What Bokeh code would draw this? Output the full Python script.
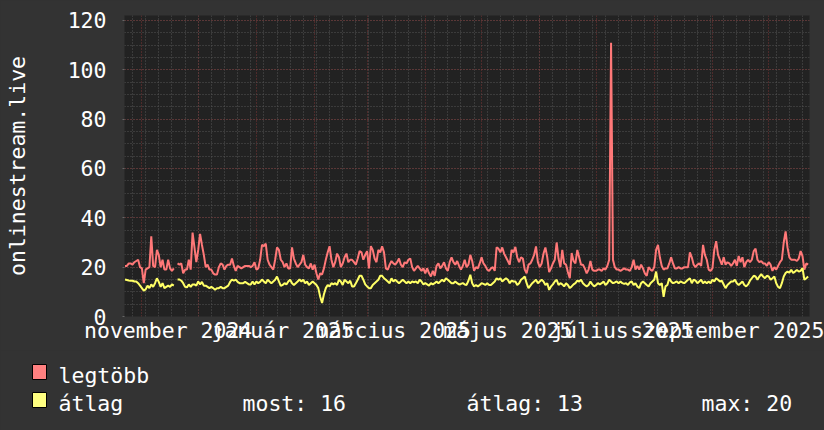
import pandas as pd
from bokeh.plotting import figure
from bokeh.core.properties import value
from bokeh.models import Range1d, FixedTicker, ColumnDataSource, GlobalInlineStyleSheet
from bokeh.embed import file_html
from bokeh.resources import INLINE

nan = float("nan")

# ---- data (daily values) ----
first_day = "2024-10-23"
legtobb = [
    20.5, 20.5, 21.5, 21.5, 21, 22, 22.5, 23, 20, 19.5,
    13.5, 19, 19.5, 20, 32.5, 20.5, 20, 27, 25, 20,
    23, 19, 19, 23, 19.5, 18.5, 19.5, nan, 21.5, 21,
    21.5, 17.5, 19, 19, 23, 19, 34, 28, 22, 27,
    33.5, 29, 25, 20, 21, 19, 19, 17.5, 17, 17,
    20, 21.5, 21, 19, 20.5, 21, 21, 23.5, 20.5, 18.5,
    20.5, 20, 19.5, 20, 20.5, 20.5, 20.5, 20, 20.5, 22,
    19, 19.5, 23, 29, 28.5, 29.5, 23, 21, 20, 19,
    23, 28, 27, 23, 22, 20, 21.5, 19.5, 19.5, 28,
    23.5, 21.5, 20, 21, 22, 25, 21, 20, 19.5, 21.5,
    19, 21, 17.5, 15, 17.5, 17, 19.5, 23, 26, 28.5,
    23, 20, 22, 25.5, 24, 20, 21.5, 24, 25.5, 22,
    23, 23, 22, 21, 23.5, 26.5, 26, 23, 25, 26.5,
    19.5, 28.5, 27, 23.5, 22, 27, 26, 28.5, 26, 19.5,
    19, 21, 22.5, 21.5, 21, 22, 23.5, 21, 20, 22,
    21.5, 23, 23.5, 20, 18.5, 19.5, 20.5, 19.5, 18.5, 19.5,
    17.5, 19.5, 17.5, 16.2, 18.5, 16.5, 20.5, 21.5, 19.5, 20.5,
    22, 19.5, 18.5, 22, 24, 22, 21, 22.5, 20.5, 19,
    20.5, 23, 20, 21, 25, 22.5, 18.5, 20, 19.5, 21.5,
    24, 21.5, 20.5, 19, 18.5, 19.5, 20, 18.5, 28, 27.5,
    26, 28, 25.5, 24, 22.5, 21, 27, 26, 28.2, 24,
    22, 24, 23.5, 19, 17.5, 21, 21.5, 23, 25, 28.4,
    22, 20, 21.5, 25.5, 28, 24, 18, 19.5, 21.5, 23,
    30, 23.5, 20, 27, 21.5, 21, 18, 15.5, 25.7, 22.5,
    21.5, 27, 24, 21, 21, 19.5, 17.5, 19, 22.5, 19,
    18.5, 18.5, 19, 19, 18.5, 19.5, 19, 20.5, 23, 111,
    23, 20, 19, 19, 18.5, 19, 19.5, 19, 19, 18.5,
    20, 23, 19, 20.5, 19, 21, 19.5, 17.5, 16.5, 20,
    19, 18.5, 20, 27, 29, 24, 20.5, 19, 19.5, 19.5,
    21.5, 24, 21.5, 19.5, 19.5, 20, 19.5, 19.5, 20, 20,
    20, 26, 24, 21, 20, 21, 21.5, 20.5, 29, 25,
    23, 19, 18.5, 19.5, 27, 30.5, 25, 23, 21, 24,
    21, 22, 21.5, 20.5, 21.5, 23, 20.5, 24.5, 22, 24,
    20, 22, 23, 22, 23, 26.5, 27.5, 23, 22, 22.5,
    21.5, 21.5, 20.5, 22, 21, 18.5, 20, 19, 20.5, 22,
    23, 30, 34.5, 28, 24, 23, 23, 23, 22.5, 23.5,
    26.5, 24.5, 19, 21.5, 21,
]
atlag = [
    15, 14.8, 14.6, 14.5, 14.5, 14.2, 14.2, 13.5, 12.5, 11.5,
    10.5, 11, 12.5, 11.5, 13, 12, 13.5, 15.5, 14, 12,
    13.5, 11.5, 12, 12.5, 12, 13, 12.5, nan, 15, 15,
    14.5, 13.5, 12, 11.8, 13, 12, 13, 13, 12.5, 14.2,
    13, 14, 12.5, 12.5, 12, 11.5, 12, 11.5, 10.8, 11.5,
    11.5, 12, 11.5, 11.5, 12, 12.5, 14, 15, 14.5, 15,
    14, 13.5, 13.5, 13.5, 14, 13.5, 13, 13, 14.2, 13,
    14.2, 13.5, 14, 15, 14.2, 13.5, 14.9, 14.2, 13.5, 14.2,
    14.9, 16.2, 14.2, 12.4, 12.8, 13.5, 13, 14.2, 14.9, 13.5,
    12.8, 13.5, 14.2, 15, 14.2, 14.9, 13.5, 14.2, 12.8, 13.5,
    14.2, 13.5, 12.8, 11.5, 8, 5.5, 9, 11.5, 12.8, 12.2,
    13.5, 13, 13.5, 12.8, 14.9, 14.2, 12.8, 14.9, 14.2, 13.5,
    14.5, 12.2, 12.2, 13.5, 14.9, 16.5, 16.5, 14.9, 13, 12.2,
    11.5, 11.5, 12.8, 13.5, 14.2, 14.9, 16.5, 16.5, 15.5, 14.9,
    14.2, 13.5, 15.5, 14.2, 14.9, 14.2, 13.5, 14.2, 14.9, 14.2,
    13.5, 14.2, 13.5, 14.2, 13.8, 14.2, 13.5, 14.9, 14.2, 13,
    13.5, 13, 12.5, 13.5, 13, 13.5, 14.2, 13.5, 14.2, 14.9,
    14.2, 15.5, 14.9, 14.2, 13.5, 13.5, 14.2, 13.5, 13, 13.2,
    13.5, 13, 12.8, 14.5, 16.9, 13.5, 12.2, 12.8, 12.2, 12.8,
    13.5, 13.2, 12.8, 13.5, 12.8, 12.8, 13.5, 14.2, 15.5, 14.9,
    15.5, 14.2, 14.9, 15.5, 14.9, 13.5, 14.5, 14.2, 14.2, 12.8,
    13.5, 14.9, 15.5, 16.2, 13.5, 11.5, 12.5, 13.5, 14.2, 14.9,
    13.5, 14.2, 14.9, 14.2, 12.8, 13.5, 10.8, 12.2, 13, 14.2,
    14.9, 12.8, 13.5, 13, 12.2, 13.5, 12.8, 11.5, 12.2, 13,
    13.5, 14.5, 14.2, 14.9, 13.5, 12.8, 12.2, 12.8, 14.2, 13,
    12.2, 12.8, 13.5, 13, 13.5, 14.2, 12.8, 13.5, 14.9, 14.2,
    13.5, 13.8, 14.2, 13.5, 14.2, 13.5, 13.2, 13.5, 12.8, 13.8,
    14.2, 12.8, 13.5, 12.2, 11.5, 13.5, 14.2, 13.5, 12.8, 12.2,
    13.5, 14.2, 14.9, 18.2, 13.5, 12.8, 13.5, 8, 12.2, 12.8,
    15.5, 14.2, 13.5, 13.8, 14.2, 13.5, 14.2, 13.8, 13.5, 14.2,
    14.9, 15.5, 13.5, 14.9, 14.5, 13.5, 14.2, 14.9, 13.5, 14.2,
    13.5, 14.2, 13.5, 14.9, 14.2, 15.5, 14.9, 14.2, 14.5, 13,
    11.5, 12.8, 13.5, 14.2, 14.2, 14.9, 13.5, 12.8, 13.5, 14.2,
    12.8, 12.2, 13, 14.5, 15.5, 16.5, 16.2, 14.9, 16.2, 17.2,
    16.2, 15.5, 16.5, 16.2, 14.9, 15.5, 16.2, 13.5, 12, 11.5,
    13.5, 16.2, 17.6, 18.2, 17.8, 18.9, 17.6, 18.2, 18.9, 18.2,
    18.5, 19.6, 14.9, 15.5, 16.2,
]
series_names = ["legtöbb", "átlag"]
series_colors = ["#ff7878", "#ffff66"]
legend_box_colors = ["#ff8080", "#ffff80"]
y_ticks = [0, 20, 40, 60, 80, 100, 120]
month_labels = ["november 2024", "január 2025", "március 2025",
                "május 2025", "július 2025", "szeptember 2025"]
month_label_dates = ["2024-11-15", "2025-01-15", "2025-03-15",
                     "2025-05-15", "2025-07-15", "2025-09-15"]
stat_texts = ["most: 16", "átlag: 13", "max: 20"]
axis_title = "onlinestream.live"

# ---- styling ----
FONT = "DejaVu Sans Mono"
FS = "21.5px"
BG = "#333333"
CANVAS = "#222222"


def ms(ts):
    return float(pd.Timestamp(ts).value // 10**6)


dates = pd.date_range(first_day, periods=len(legtobb), freq="D")
src = ColumnDataSource(dict(date=dates, top=legtobb, avg=atlag))

t0 = pd.Timestamp("2024-10-22 17:30")
t1 = t0 + pd.Timedelta(days=365)

p = figure(width=824, height=350, x_axis_type="datetime",
           x_range=Range1d(t0.to_pydatetime(), t1.to_pydatetime()),
           y_range=Range1d(0, 122),
           output_backend="svg", toolbar_location=None,
           min_border_left=124, min_border_right=15,
           min_border_top=15, min_border_bottom=34,
           background_fill_color=CANVAS, border_fill_color=BG,
           outline_line_color=None)
p.stylesheets = [GlobalInlineStyleSheet(css="html, body { background-color: #333333; }")]

# grids
month_starts = [ms(d) for d in pd.date_range("2024-11-01", "2025-10-01", freq="MS")]
sundays = [ms(d) for d in pd.date_range("2024-10-27", "2025-10-19", freq="7D")]
y_minor = list(range(5, 121, 5))
p.xgrid.ticker = FixedTicker(ticks=month_starts, minor_ticks=sundays)
p.ygrid.ticker = FixedTicker(ticks=y_ticks, minor_ticks=y_minor)
for g in (p.xgrid, p.ygrid):
    g.grid_line_color = "#7a3434"
    g.grid_line_dash = "1 2"
    g.grid_line_width = 1
    g.minor_grid_line_color = "#555555"
    g.minor_grid_line_dash = "1 2"

# y axis
p.yaxis.ticker = FixedTicker(ticks=y_ticks, minor_ticks=y_minor)
p.yaxis.axis_line_color = None
p.yaxis.major_tick_line_color = "#666666"
p.yaxis.major_tick_out = 2
p.yaxis.major_tick_in = 0
p.yaxis.minor_tick_line_color = None
p.yaxis.major_label_standoff = 14
p.yaxis.major_label_text_font = FONT
p.yaxis.major_label_text_font_size = FS
p.yaxis.major_label_text_color = "#ffffff"
p.yaxis.axis_label = axis_title
p.yaxis.axis_label_text_font = FONT
p.yaxis.axis_label_text_font_size = FS
p.yaxis.axis_label_text_font_style = "normal"
p.yaxis.axis_label_text_color = "#ffffff"
p.yaxis.axis_label_standoff = 35

# x axis
xt = [ms(d) for d in month_label_dates]
p.xaxis.ticker = FixedTicker(ticks=xt)
p.xaxis.major_label_overrides = {t: lab for t, lab in zip(xt, month_labels)}
p.xaxis.axis_line_color = None
p.xaxis.major_tick_line_color = None
p.xaxis.minor_tick_line_color = None
p.xaxis.major_label_standoff = -5
p.xaxis.major_label_text_font = FONT
p.xaxis.major_label_text_font_size = FS
p.xaxis.major_label_text_color = "#ffffff"

# series
p.line("date", "top", source=src, line_color=series_colors[0], line_width=2)
p.line("date", "avg", source=src, line_color=series_colors[1], line_width=2)

# ---- legend strip: its own root below the chart, in pixel units ----
leg = figure(width=824, height=80, x_range=Range1d(0, 824), y_range=Range1d(0, 80),
             output_backend="svg", toolbar_location=None, title=None,
             min_border=0, min_border_left=0, min_border_right=0,
             min_border_top=0, min_border_bottom=0,
             x_axis_location=None, y_axis_location=None,
             background_fill_color=BG, border_fill_color=BG,
             outline_line_color=None)
leg.grid.visible = False
box_base = [51, 23]          # bottoms of the two legend swatches
text_base = [55, 27]         # text baselines of the two legend rows
leg.quad(left=[32, 32], right=[46, 46],
         top=[b + 15 for b in box_base], bottom=box_base,
         fill_color=legend_box_colors, line_color="#000000", line_width=1)
leg.text(x=[58, 58], y=text_base, text=series_names,
         text_font=value(FONT), text_font_size=value(FS),
         text_color="#ffffff", text_baseline="alphabetic")
leg.text(x=[242, 466, 701], y=[text_base[1]] * 3, text=stat_texts,
         text_font=value(FONT), text_font_size=value(FS),
         text_color="#ffffff", text_baseline="alphabetic")

open("out.html", "w").write(file_html([p, leg], INLINE))
